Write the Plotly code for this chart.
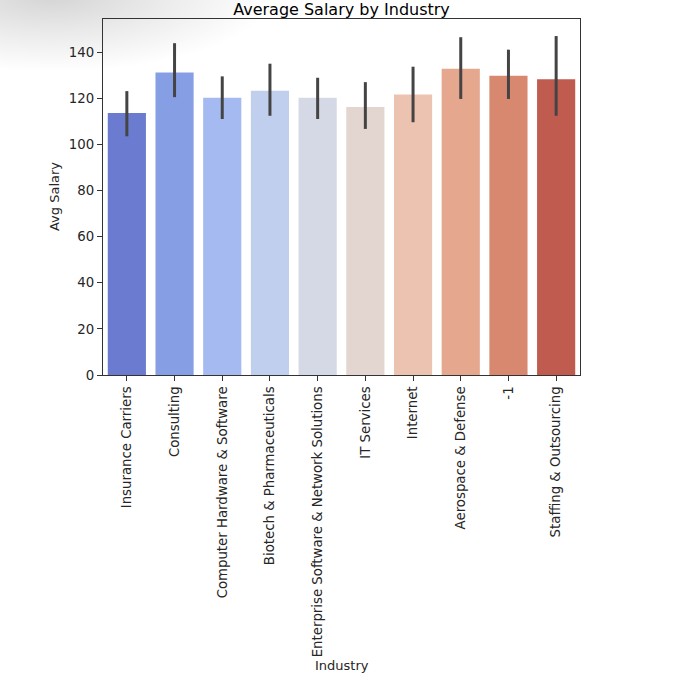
#!/usr/bin/env python3
# -*- coding: utf-8 -*-

import base64

import plotly.graph_objects as go

# Data
industries = [
    "Insurance Carriers",
    "Consulting",
    "Computer Hardware & Software",
    "Biotech & Pharmaceuticals",
    "Enterprise Software & Network Solutions",
    "IT Services",
    "Internet",
    "Aerospace & Defense",
    "-1",
    "Staffing & Outsourcing",
]
avg_salary = [113.7, 131.3, 120.3, 123.4, 120.3, 116.3, 121.7, 132.9, 129.9, 128.4]
ci_high = [123.2, 144.0, 129.6, 135.1, 129.0, 127.1, 133.8, 146.6, 141.2, 147.1]
ci_low = [103.6, 120.6, 111.1, 112.5, 111.1, 106.8, 109.7, 119.8, 119.8, 112.5]

# desaturated coolwarm palette as rendered in the picture
bar_colors = [
    "#6a7bd0", "#869fe4", "#a4baf0", "#c1cfee", "#d5d9e5",
    "#e3d5cf", "#ebc3b0", "#e6a78f", "#d98870", "#c05b50",
]

err_plus = [h - v for h, v in zip(ci_high, avg_salary)]
err_minus = [v - l for l, v in zip(ci_low, avg_salary)]

FONT = "DejaVu Sans"
TXT = "#262626"

# soft grey shadow in the top-left corner of the screenshot (inline svg, no network)
shadow_svg = (
    '<svg xmlns="http://www.w3.org/2000/svg" width="260" height="90" '
    'viewBox="0 0 260 90" preserveAspectRatio="none">'
    '<defs><radialGradient id="g" cx="0.2" cy="-0.05" r="0.85">'
    '<stop offset="0" stop-color="#000" stop-opacity="0.17"/>'
    '<stop offset="0.5" stop-color="#000" stop-opacity="0.08"/>'
    '<stop offset="1" stop-color="#000" stop-opacity="0"/>'
    '</radialGradient></defs>'
    '<rect width="260" height="90" fill="url(#g)"/></svg>'
)
shadow_src = "data:image/svg+xml;base64," + base64.b64encode(
    shadow_svg.encode("utf-8")
).decode("ascii")

fig = go.Figure(
    go.Bar(
        x=industries,
        y=avg_salary,
        marker=dict(color=bar_colors, line=dict(width=0)),
        error_y=dict(
            type="data",
            symmetric=False,
            array=err_plus,
            arrayminus=err_minus,
            color="#444444",
            thickness=3,
            width=0,
        ),
    )
)

fig.add_layout_image(
    source=shadow_src,
    xref="paper", yref="paper",
    x=-0.216, y=1.054,
    sizex=0.545, sizey=0.253,
    xanchor="left", yanchor="top",
    sizing="stretch",
    layer="below",
)

# axis titles placed as annotations so they sit where the reference has them
fig.add_annotation(
    text="Industry", xref="paper", yref="paper",
    x=0.5, y=-0.8153, xanchor="center", yanchor="middle",
    showarrow=False, font=dict(size=13, color=TXT),
)
fig.add_annotation(
    text="Avg Salary", xref="paper", yref="paper",
    x=-0.1027, y=0.5, xanchor="center", yanchor="middle",
    textangle=-90, showarrow=False, font=dict(size=13, color=TXT),
)

fig.update_layout(
    width=680,
    height=675,
    margin=dict(l=103, r=100, t=19, b=300),
    paper_bgcolor="white",
    plot_bgcolor="rgba(0,0,0,0)",
    bargap=0.2,
    showlegend=False,
    font=dict(family=FONT, size=13.3, color=TXT),
    title=dict(
        text="Average Salary by Industry",
        x=0.5, xref="paper",
        y=1, yanchor="bottom", yref="paper",
        pad=dict(b=4),
        font=dict(size=16, color="black"),
    ),
    xaxis=dict(
        tickangle=-90,
        ticks="outside", ticklen=5, tickcolor="#333333",
        showline=True, linecolor="#333333", linewidth=1.2, mirror=True,
        showgrid=False,
        range=[-0.5, 9.5],
        automargin=False,
    ),
    yaxis=dict(
        range=[0, 154.5],
        tickvals=[0, 20, 40, 60, 80, 100, 120, 140],
        ticks="outside", ticklen=5, tickcolor="#333333",
        showline=True, linecolor="#333333", linewidth=1.2, mirror=True,
        showgrid=False, zeroline=False,
        automargin=False,
    ),
)

# drop the default page margin so the figure sits at the window's corner
fig.write_html(
    "out.html",
    config={"displayModeBar": False},
    post_script="document.body.style.margin = '0';",
)
